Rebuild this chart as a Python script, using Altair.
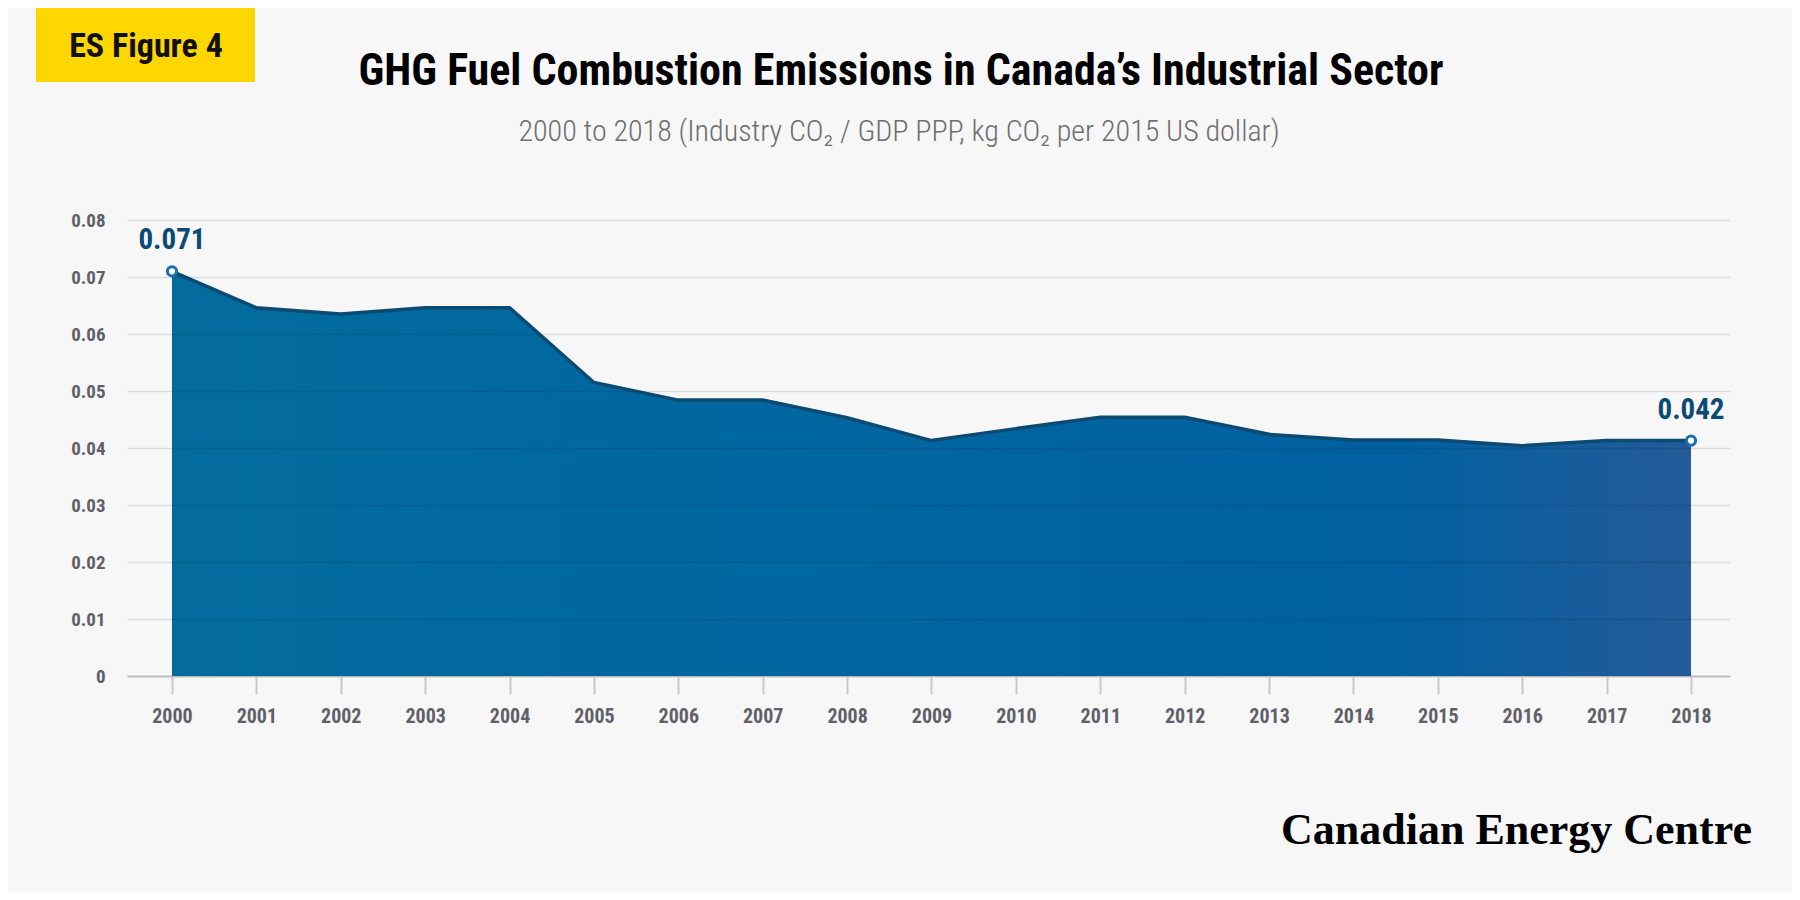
import altair as alt
import pandas as pd

# ---- data ----
years = [2000, 2001, 2002, 2003, 2004, 2005, 2006, 2007, 2008, 2009,
         2010, 2011, 2012, 2013, 2014, 2015, 2016, 2017, 2018]
values = [0.071, 0.0646, 0.0635, 0.0646, 0.0646, 0.0515, 0.0484, 0.0484, 0.0453, 0.0413,
          0.0434, 0.0454, 0.0454, 0.0424, 0.0414, 0.0414, 0.0404, 0.0413, 0.0413]
label_years = [2000, 2018]
label_values = [0.071, 0.0413]
label_texts = ["0.071", "0.042"]
y_ticks = [0, 0.01, 0.02, 0.03, 0.04, 0.05, 0.06, 0.07, 0.08]

title_text = "GHG Fuel Combustion Emissions in Canada\u2019s Industrial Sector"
subtitle_text = "2000 to 2018 (Industry CO\u2082 / GDP PPP, kg CO\u2082 per 2015 US dollar)"
badge_text = "ES Figure 4"
logo_text = "Canadian Energy Centre"

df = pd.DataFrame({"year": years, "value": values})
lab = pd.DataFrame({"year": label_years, "value": label_values, "text": label_texts})

COND = "Roboto Condensed, Roboto, Liberation Sans, sans-serif"
BG = "#f7f7f7"
W, H = 1603, 456
PL, PT = 119, 212  # plot origin at page (127, 220)

xscale = alt.Scale(domain=[1999.467, 2018.462], nice=False, zero=False)
yscale = alt.Scale(domain=[0, 0.08], nice=False)

xenc = alt.X("year:Q", scale=xscale,
             axis=alt.Axis(values=years, format="d", title=None, grid=False,
                           domainColor="#cfcfcf", domainWidth=2,
                           tickColor="#c8c8c8", tickSize=18, tickWidth=2,
                           labelFont=COND, labelFontSize=20, labelFontWeight="bold",
                           labelColor="#606068", labelPadding=12))
yenc = alt.Y("value:Q", scale=yscale,
             axis=alt.Axis(values=y_ticks, format=".2~f", title=None,
                           grid=True, gridColor="#000000", gridOpacity=0.1, gridWidth=1.5,
                           domain=False, ticks=False, zindex=1,
                           labelFont=COND, labelFontSize=19, labelFontWeight="bold",
                           labelColor="#606068", labelPadding=22))

grad = alt.Gradient(
    gradient="linear",
    stops=[alt.GradientStop(color="#036c9d", offset=0),
           alt.GradientStop(color="#0066a0", offset=0.45),
           alt.GradientStop(color="#0060a0", offset=0.8),
           alt.GradientStop(color="#245b98", offset=1)],
    x1=0, x2=1, y1=0, y2=0)

area = alt.Chart(df).mark_area(color=grad, opacity=1).encode(x=xenc, y=yenc)
line = alt.Chart(df).mark_line(color="#0b4a72", strokeWidth=3.5).encode(x="year:Q", y="value:Q")

pts = alt.Chart(lab).mark_point(shape="circle", filled=True, fill="white",
                                stroke="#1a6eae", strokeWidth=3, size=85, opacity=1).encode(
    x="year:Q", y="value:Q")
lbl = alt.Chart(lab).mark_text(font=COND, fontSize=29, fontWeight="bold", color="#0b4a72",
                               dy=-22, baseline="alphabetic", align="center").encode(
    x="year:Q", y="value:Q", text="text:N")

one = pd.DataFrame({"k": [0]})
badge = alt.Chart(one).mark_rect(color="#ffd700").encode(
    x=alt.value(-91), x2=alt.value(128), y=alt.value(-240), y2=alt.value(-138))
badge_t = alt.Chart(one).mark_text(font=COND, fontSize=34, fontWeight="bold", color="#111111",
                                   align="center", baseline="middle").encode(
    x=alt.value(19), y=alt.value(-173), text=alt.value(badge_text))
title = alt.Chart(one).mark_text(font=COND, fontSize=44, fontWeight="bold", color="#000000",
                                 align="center", baseline="middle").encode(
    x=alt.value(774), y=alt.value(-148), text=alt.value(title_text))
subtitle = alt.Chart(one).mark_text(font=COND, fontSize=30, fontWeight=300, color="#6e6e6e",
                                    align="center", baseline="middle").encode(
    x=alt.value(772), y=alt.value(-88), text=alt.value(subtitle_text))
logo = alt.Chart(one).mark_text(font="Liberation Serif, DejaVu Serif, serif", fontSize=44,
                                fontWeight="bold", color="#000000",
                                align="right", baseline="alphabetic").encode(
    x=alt.value(1625), y=alt.value(624), text=alt.value(logo_text))

chart = alt.layer(area, line, pts, lbl, badge, badge_t, title, subtitle, logo).properties(
    width=W, height=H,
    autosize=alt.AutoSizeParams(type="none"),
    padding={"left": PL, "top": PT, "right": 62, "bottom": 216},
    background=BG,
).configure_view(stroke=None)

chart.save("out.html", embed_options={"renderer": "svg", "actions": False})
